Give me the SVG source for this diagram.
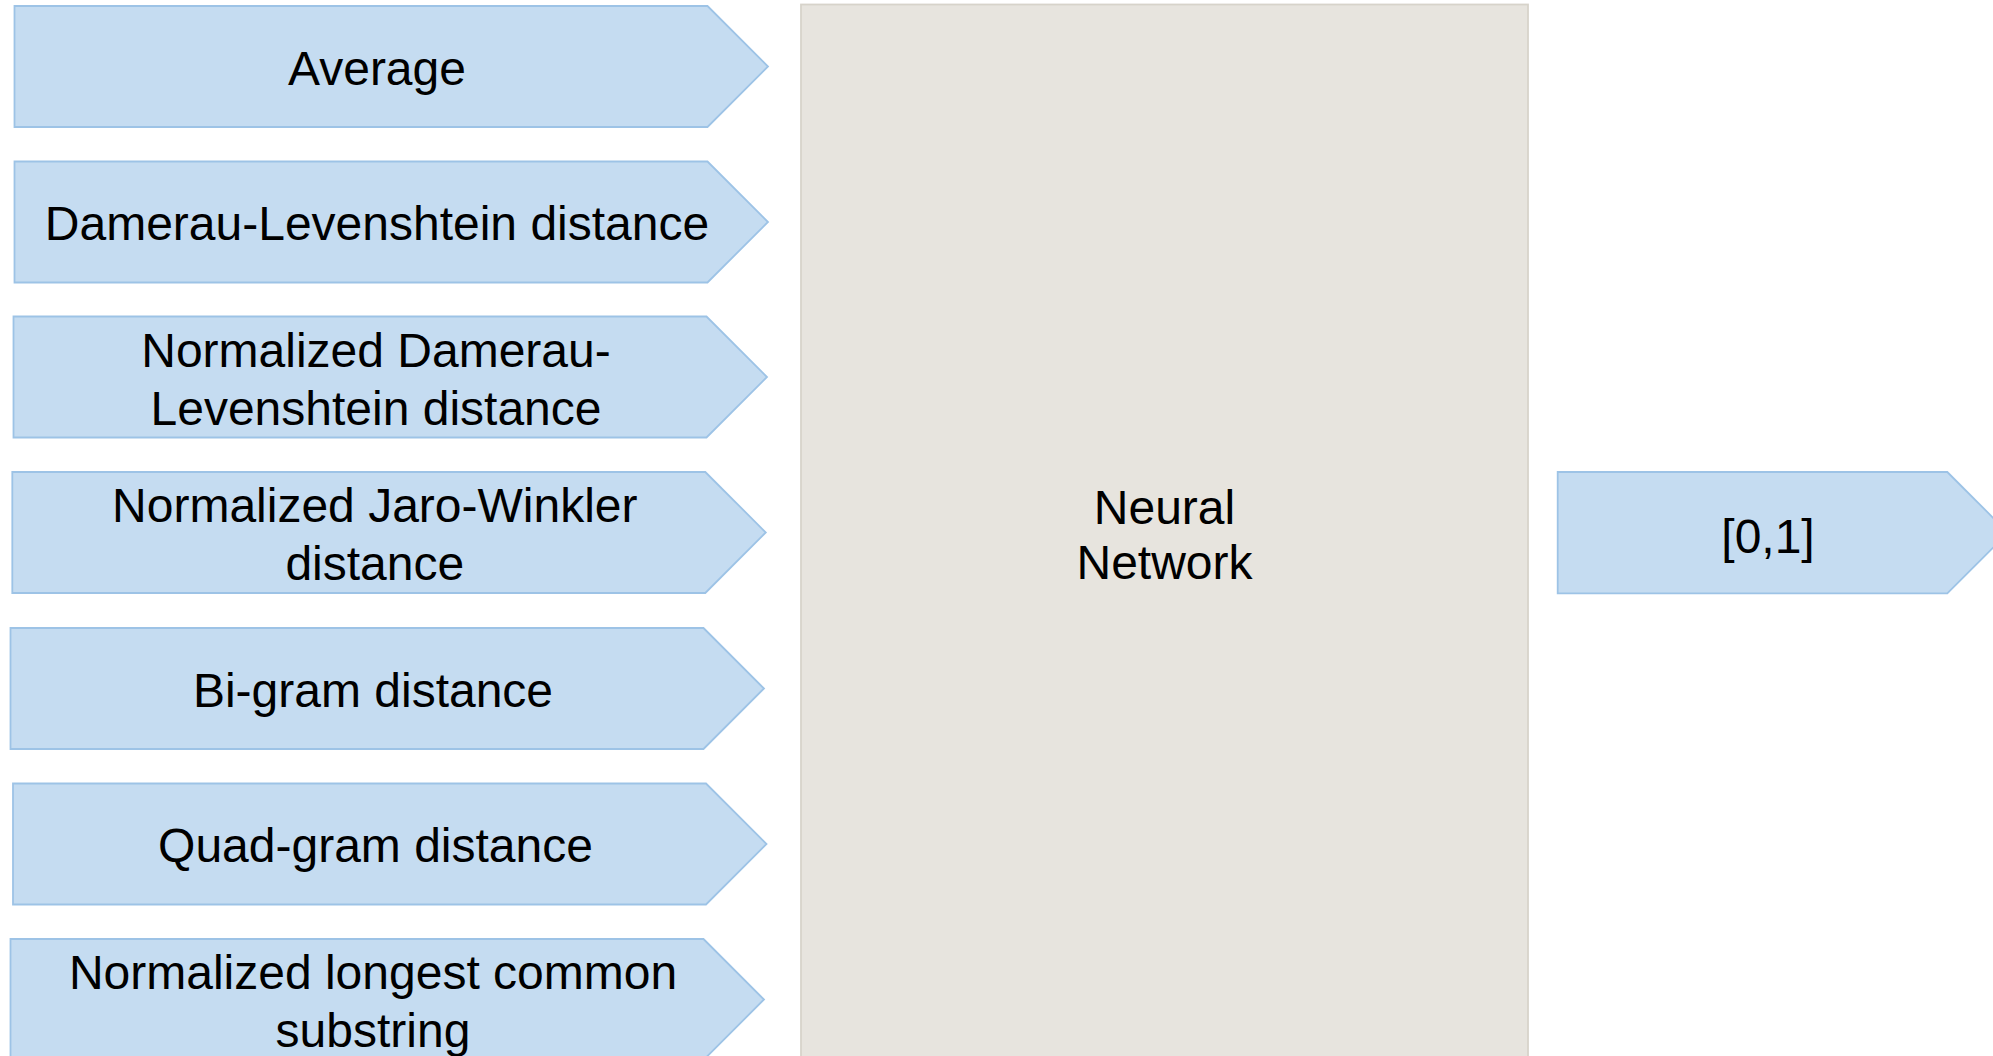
<svg xmlns="http://www.w3.org/2000/svg" width="1993" height="1056" viewBox="0 0 1993 1056">
  <style>
    .arrow { fill: #C5DCF1; stroke: #9DC3E6; stroke-width: 1.8; stroke-linejoin: miter; }
    .nn { fill: #E7E4DE; stroke: #D7D3CA; stroke-width: 1.8; }
    .lbl { font-family: "Liberation Sans", Arial, sans-serif; font-size: 48px; fill: #000000; text-anchor: middle; }
  </style>
  <defs>
    <!-- pentagon arrow: 693 wide body, 60.5 deep tip, 121 tall -->
    <polygon id="feat" points="0,0 693,0 753.5,60.5 693,121 0,121"/>
  </defs>
  <rect width="1993" height="1056" fill="#FFFFFF"/>

  <g id="connectors"></g>

  <g id="node-average">
    <use href="#feat" class="arrow" x="14.5" y="6"/>
    <text class="lbl" x="377" y="84.5">Average</text>
  </g>

  <g id="node-damerau">
    <use href="#feat" class="arrow" x="14.5" y="161.5"/>
    <text class="lbl" x="377" y="239.5">Damerau-Levenshtein distance</text>
  </g>

  <g id="node-norm-damerau">
    <use href="#feat" class="arrow" x="13.5" y="316.5"/>
    <text class="lbl" x="376" y="366.5">Normalized Damerau-</text>
    <text class="lbl" x="376" y="424.5">Levenshtein distance</text>
  </g>

  <g id="node-jaro">
    <use href="#feat" class="arrow" x="12.3" y="472"/>
    <text class="lbl" x="374.8" y="521.5">Normalized Jaro-Winkler</text>
    <text class="lbl" x="374.8" y="579.5">distance</text>
  </g>

  <g id="node-bigram">
    <use href="#feat" class="arrow" x="10.5" y="628"/>
    <text class="lbl" x="373" y="706.5">Bi-gram distance</text>
  </g>

  <g id="node-quadgram">
    <use href="#feat" class="arrow" x="13" y="783.5"/>
    <text class="lbl" x="375.5" y="862">Quad-gram distance</text>
  </g>

  <g id="node-lcs">
    <use href="#feat" class="arrow" x="10.5" y="939"/>
    <text class="lbl" x="373" y="988.5">Normalized longest common</text>
    <text class="lbl" x="373" y="1046.5">substring</text>
  </g>

  <g id="node-neural-network">
    <rect class="nn" x="801" y="4.5" width="727" height="1070"/>
    <text class="lbl" x="1164.5" y="523.5">Neural</text>
    <text class="lbl" x="1164.5" y="579">Network</text>
  </g>

  <g id="node-output">
    <polygon class="arrow" points="1557.7,472 1947.3,472 2008,532.7 1947.3,593.3 1557.7,593.3"/>
    <text class="lbl" x="1768" y="553">[0,1]</text>
  </g>
</svg>
